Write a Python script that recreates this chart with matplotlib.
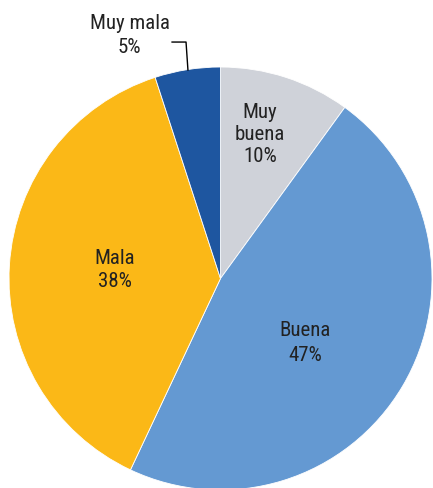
import matplotlib
matplotlib.use("Agg")
from matplotlib import pyplot as plt

labels = ["Muy\nbuena", "Buena", "Mala", "Muy mala"]
values = [10, 47, 38, 5]
colors = ["#cfd2d9", "#6499d2", "#fbb817", "#1e56a0"]

plt.rcParams['font.family'] = ['Roboto Condensed', 'DejaVu Sans']

fig = plt.figure(figsize=(4.33, 4.88), dpi=100)
ax = fig.add_axes([0, 0, 1, 1])
ax.pie(values, colors=colors, startangle=90, counterclock=False,
       radius=1, center=(0, 0), wedgeprops=dict(linewidth=0.6, edgecolor="white"))
ax.set_xlim(-1.0426, 1.0047)
ax.set_ylim(-0.9905, 1.3168)
ax.set_aspect("equal")
ax.axis("off")

# label positions (data coords, pie radius = 1)
pos = [(0.187, 0.68), (0.40, -0.305), (-0.50, 0.04), (-0.43, 1.15)]
spacing = [1.2, 1.4, 1.3, 1.3]
for lab, v, (x, y), ls in zip(labels, values, pos, spacing):
    ax.text(x, y, "%s\n%d%%" % (lab, v), ha="center", va="center",
            fontsize=15, linespacing=ls, color="#222222")

# leader line for the small slice
ax.plot([-0.229, -0.163, -0.154], [1.118, 1.118, 0.986], color="black", lw=1)

fig.savefig("out.png", dpi=100)
